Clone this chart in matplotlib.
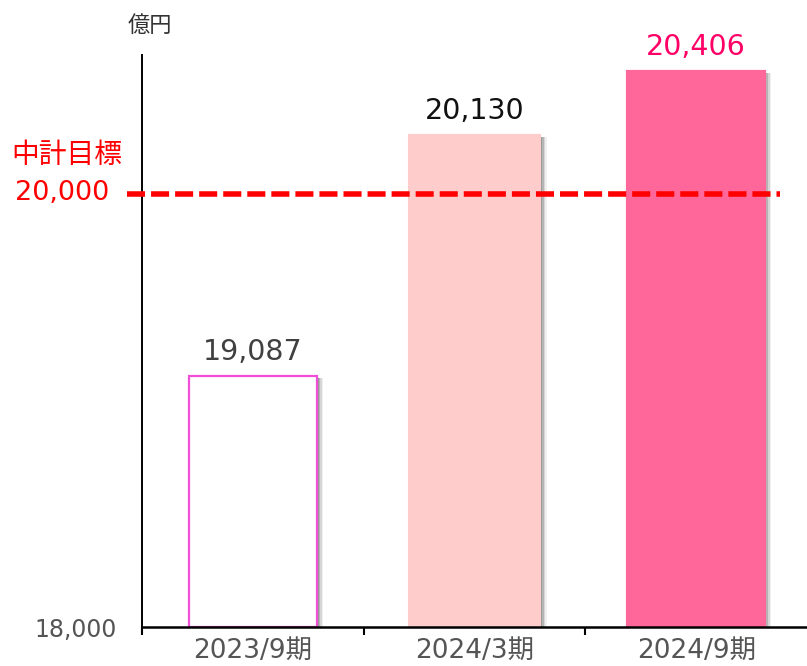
import numpy as np
import matplotlib
matplotlib.use("Agg")
import matplotlib.pyplot as plt

plt.rcParams['font.family'] = ['DejaVu Sans', 'Noto Sans CJK JP']

# data
periods = ['2023/9期', '2024/3期', '2024/9期']
values = [19087, 20130, 20406]
value_labels = ['19,087', '20,130', '20,406']
target_text = '中計目標'
target_label = '20,000'
target_pos = 19873   # where the dashed line sits in the picture
y_base = 18000
y_top = 20475

face_colors = ['white', '#FFCCCC', '#FF6699']
edge_colors = ['#F050D8', '#FFCCCC', '#FF6699']
label_colors = ['#404040', '#111111', '#FF0066']
widths = [0.58, 0.595, 0.62]

fig = plt.figure(figsize=(8.07, 6.66), dpi=100)
ax = fig.add_axes([142/807, 1 - 627/666, 1 - 142/807, (627 - 55)/666])

x = np.arange(len(periods))

# soft shadow on the right side of each bar
for k, a in enumerate([0.45, 0.32, 0.2, 0.1]):
    off = 0.007 * (k + 1)
    ax.bar(x + off, np.array(values) - y_base, widths, bottom=y_base - 8,
           color='#707070', alpha=a, linewidth=0, zorder=1)

bars = ax.bar(x, np.array(values) - y_base, widths, bottom=y_base,
              color=face_colors, edgecolor=edge_colors, linewidth=1.6, zorder=2)

for i, b in enumerate(bars):
    ax.annotate(value_labels[i], (b.get_x() + b.get_width()/2, values[i]),
                xytext=(0, 11.5), textcoords='offset points',
                ha='center', va='baseline', fontsize=20.5, color=label_colors[i])

ax.set_xlim(-0.5, 2.5)
ax.set_ylim(y_base, y_top)

ax.plot([-0.566, 2.38], [target_pos, target_pos], color='#FF0000', lw=4,
        dashes=(3.25, 1.08), clip_on=False, zorder=3)

ax.spines['top'].set_visible(False)
ax.spines['right'].set_visible(False)
ax.spines['left'].set_linewidth(1.4)
ax.spines['bottom'].set_linewidth(1.8)

ax.set_xticks(x)
ax.set_xticklabels(periods, fontsize=19, color='#555555')
ax.tick_params(axis='x', length=0, pad=8)
ax.set_xticks([-0.5, 0.5, 1.5], minor=True)
ax.tick_params(axis='x', which='minor', length=6, width=1.5, direction='out')

ax.set_yticks([y_base])
ax.set_yticklabels(['18,000'], fontsize=17, color='#555555')
ax.tick_params(axis='y', length=0, pad=18)

fig.text(150/807, 1 - 25/666, '億円', ha='center', va='center',
         fontsize=16, color='#333333', family='Noto Sans CJK JP')
fig.text(67/807, 1 - 155/666, target_text, ha='center', va='center',
         fontsize=20, color='#FF0000', family='Noto Sans CJK JP')
fig.text(62/807, 1 - 193/666, target_label, ha='center', va='center',
         fontsize=19.5, color='#FF0000')

fig.savefig('out.png', dpi=100)
